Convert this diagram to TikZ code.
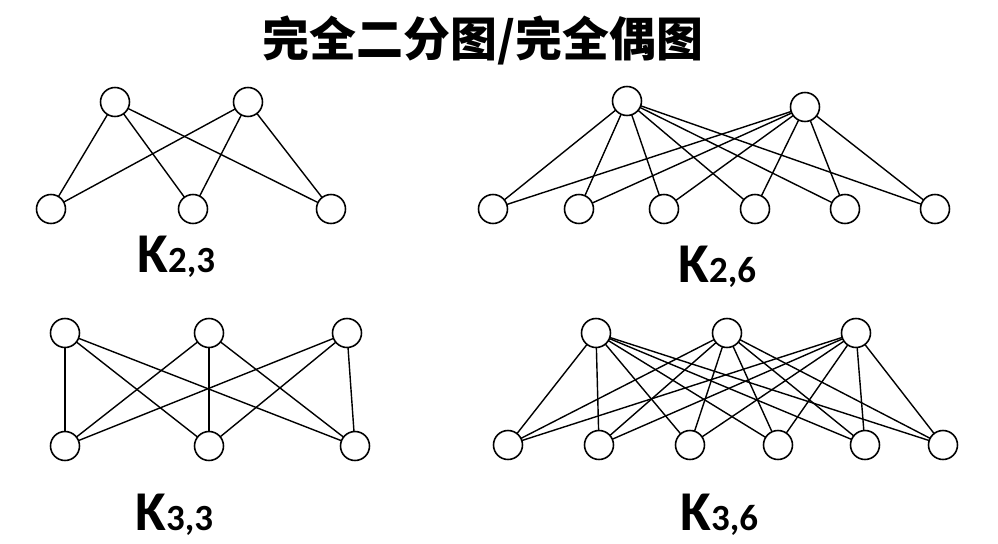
\documentclass[tikz,border=0pt]{standalone}
\usepackage{fontspec}
\newfontfamily\cjk{Noto Sans CJK SC}
\newfontfamily\kfont{Carlito}
\usepackage{tikz}

\tikzset{
  vert/.style={circle,draw,line width=0.9pt,minimum size=0.58cm,inner sep=0pt,fill=white},
  edge/.style={line width=0.8pt},
  glabel/.style={anchor=base west,inner sep=0pt}
}
\newcommand{\Kname}[2]{{\kfont\bfseries\fontsize{32}{32}\selectfont K}{\kfont\bfseries\fontsize{21}{21}\selectfont #1,#2}}

\begin{document}
\begin{tikzpicture}[x=0.02cm,y=-0.02cm]
    \useasboundingbox[fill=white] (0,0) rectangle (998,544);

%title
    \node (T) at (483,40) {\cjk\bfseries\fontsize{26.7}{27}\selectfont 完全二分图/完全偶图};

%K2,3
    \coordinate (Au1) at (115,102);
    \coordinate (Au2) at (248,102);
    \coordinate (Av1) at (51,209);
    \coordinate (Av2) at (193,209);
    \coordinate (Av3) at (331,209);
    \foreach \u in {1,2}
      \foreach \v in {1,2,3}
        \draw[edge] (Au\u) -- (Av\v);
    \foreach \p in {Au1,Au2,Av1,Av2,Av3}
      \node[vert] (n\p) at (\p) {};
    \node[glabel] (LA) at (137,273) {\Kname{2}{3}};

%K2,6
    \coordinate (Bu1) at (627,101);
    \coordinate (Bu2) at (805,107);
    \coordinate (Bv1) at (493,209);
    \coordinate (Bv2) at (579,209);
    \coordinate (Bv3) at (664,209);
    \coordinate (Bv4) at (755,209);
    \coordinate (Bv5) at (845,209);
    \coordinate (Bv6) at (935,209);
    \foreach \u in {1,2}
      \foreach \v in {1,...,6}
        \draw[edge] (Bu\u) -- (Bv\v);
    \foreach \p in {Bu1,Bu2,Bv1,Bv2,Bv3,Bv4,Bv5,Bv6}
      \node[vert] (n\p) at (\p) {};
    \node[glabel] (LB) at (678,282) {\Kname{2}{6}};

%K3,3
    \coordinate (Cu1) at (65,333);
    \coordinate (Cu2) at (209,333);
    \coordinate (Cu3) at (347,333);
    \coordinate (Cv1) at (65,446);
    \coordinate (Cv2) at (209,446);
    \coordinate (Cv3) at (355,446);
    \foreach \u in {1,2,3}
      \foreach \v in {1,2,3}
        \draw[edge] (Cu\u) -- (Cv\v);
    \foreach \p in {Cu1,Cu2,Cu3,Cv1,Cv2,Cv3}
      \node[vert] (n\p) at (\p) {};
    \node[glabel] (LC) at (135,530) {\Kname{3}{3}};

%K3,6
    \coordinate (Du1) at (596,333);
    \coordinate (Du2) at (727,333);
    \coordinate (Du3) at (856,333);
    \coordinate (Dv1) at (508,445);
    \coordinate (Dv2) at (599,445);
    \coordinate (Dv3) at (690,445);
    \coordinate (Dv4) at (778,445);
    \coordinate (Dv5) at (865,445);
    \coordinate (Dv6) at (943,445);
    \foreach \u in {1,2,3}
      \foreach \v in {1,...,6}
        \draw[edge] (Du\u) -- (Dv\v);
    \foreach \p in {Du1,Du2,Du3,Dv1,Dv2,Dv3,Dv4,Dv5,Dv6}
      \node[vert] (n\p) at (\p) {};
    \node[glabel] (LD) at (680,530) {\Kname{3}{6}};

\end{tikzpicture}
\end{document}
